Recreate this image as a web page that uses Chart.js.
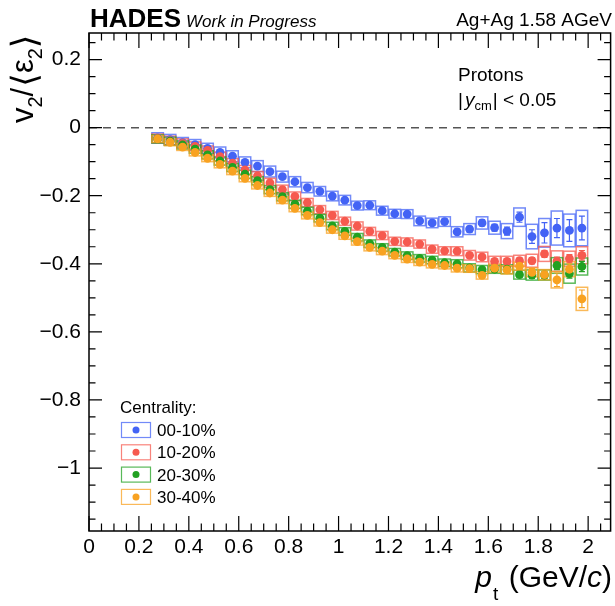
<!DOCTYPE html>
<html>
<head>
<meta charset="utf-8">
<script src="https://cdn.jsdelivr.net/npm/chart.js@4/dist/chart.umd.min.js"></script>
<style>
  body { margin: 0; background: #fff; }
</style>
</head>
<body>
<canvas id="chart" width="615" height="606"></canvas>
<script>
// Data ==========================
const ptBins = [0.275, 0.325, 0.375, 0.425, 0.475, 0.525, 0.575, 0.625, 0.675, 0.725,
                0.775, 0.825, 0.875, 0.925, 0.975, 1.025, 1.075, 1.125, 1.175, 1.225,
                1.275, 1.325, 1.375, 1.425, 1.475, 1.525, 1.575, 1.625, 1.675, 1.725,
                1.775, 1.825, 1.875, 1.925, 1.975];

const centLabels = ["00-10%", "10-20%", "20-30%", "30-40%"];
const centColors = ["#4363f5", "#f65a4f", "#21a121", "#f8a221"];

const v2Cent0010 = [-0.030, -0.035, -0.044, -0.050, -0.061, -0.073, -0.084, -0.102, -0.113, -0.129,
                    -0.144, -0.159, -0.176, -0.187, -0.201, -0.213, -0.229, -0.228, -0.244, -0.253,
                    -0.254, -0.274, -0.280, -0.276, -0.306, -0.298, -0.280, -0.294, -0.304, -0.263,
                    -0.320, -0.309, -0.295, -0.302, -0.295];
const v2Cent1020 = [-0.032, -0.038, -0.046, -0.055, -0.067, -0.085, -0.104, -0.124, -0.142, -0.162,
                    -0.182, -0.202, -0.220, -0.241, -0.258, -0.275, -0.289, -0.305, -0.317, -0.334,
                    -0.336, -0.342, -0.357, -0.362, -0.363, -0.375, -0.380, -0.393, -0.393, -0.391,
                    -0.391, -0.371, -0.392, -0.385, -0.375];
const v2Cent2030 = [-0.033, -0.040, -0.051, -0.063, -0.080, -0.098, -0.117, -0.137, -0.156, -0.182,
                    -0.203, -0.225, -0.245, -0.266, -0.289, -0.305, -0.322, -0.341, -0.352, -0.366,
                    -0.376, -0.384, -0.389, -0.397, -0.400, -0.412, -0.417, -0.416, -0.416, -0.432,
                    -0.433, -0.433, -0.405, -0.429, -0.408];
const v2Cent3040 = [-0.033, -0.043, -0.057, -0.073, -0.090, -0.108, -0.128, -0.149, -0.170, -0.192,
                    -0.213, -0.237, -0.258, -0.279, -0.300, -0.318, -0.335, -0.352, -0.363, -0.375,
                    -0.386, -0.395, -0.402, -0.405, -0.413, -0.414, -0.434, -0.413, -0.418, -0.407,
                    -0.425, -0.432, -0.447, -0.416, -0.503];

// statistical errors (half length)
const stat0010 = [0.003, 0.003, 0.003, 0.003, 0.003, 0.003, 0.003, 0.003, 0.004, 0.004,
                  0.004, 0.004, 0.004, 0.004, 0.004, 0.005, 0.005, 0.005, 0.005, 0.006,
                  0.006, 0.006, 0.007, 0.007, 0.008, 0.008, 0.009, 0.010, 0.012, 0.015,
                  0.020, 0.030, 0.028, 0.032, 0.035];
const stat1020 = [0.002, 0.002, 0.002, 0.002, 0.002, 0.002, 0.002, 0.003, 0.003, 0.003,
                  0.003, 0.003, 0.003, 0.003, 0.003, 0.003, 0.004, 0.004, 0.004, 0.004,
                  0.004, 0.005, 0.005, 0.005, 0.006, 0.006, 0.006, 0.007, 0.007, 0.008,
                  0.009, 0.010, 0.012, 0.012, 0.014];
const stat2030 = [0.002, 0.002, 0.002, 0.002, 0.002, 0.002, 0.002, 0.003, 0.003, 0.003,
                  0.003, 0.003, 0.003, 0.003, 0.003, 0.003, 0.004, 0.004, 0.004, 0.004,
                  0.004, 0.005, 0.005, 0.005, 0.006, 0.006, 0.006, 0.007, 0.007, 0.008,
                  0.009, 0.010, 0.012, 0.013, 0.015];
const stat3040 = [0.002, 0.002, 0.002, 0.002, 0.002, 0.002, 0.002, 0.003, 0.003, 0.003,
                  0.003, 0.003, 0.003, 0.003, 0.003, 0.004, 0.004, 0.004, 0.004, 0.005,
                  0.005, 0.005, 0.006, 0.006, 0.006, 0.007, 0.007, 0.008, 0.009, 0.010,
                  0.011, 0.013, 0.020, 0.016, 0.026];

// systematic errors (half height of the boxes)
const sys0010 = [0.015, 0.015, 0.015, 0.015, 0.015, 0.016, 0.016, 0.016, 0.016, 0.016,
                 0.016, 0.015, 0.015, 0.014, 0.014, 0.014, 0.013, 0.013, 0.013, 0.013,
                 0.013, 0.014, 0.014, 0.014, 0.015, 0.016, 0.018, 0.019, 0.022, 0.027,
                 0.036, 0.042, 0.050, 0.048, 0.052];
const sys1020 = [0.013, 0.013, 0.013, 0.013, 0.013, 0.013, 0.013, 0.013, 0.013, 0.013,
                 0.013, 0.013, 0.012, 0.012, 0.012, 0.012, 0.012, 0.012, 0.012, 0.012,
                 0.012, 0.012, 0.012, 0.012, 0.013, 0.014, 0.014, 0.015, 0.015, 0.016,
                 0.019, 0.022, 0.030, 0.022, 0.025];
const sys2030 = [0.012, 0.012, 0.012, 0.012, 0.012, 0.012, 0.012, 0.012, 0.012, 0.012,
                 0.012, 0.012, 0.011, 0.011, 0.011, 0.011, 0.011, 0.011, 0.011, 0.011,
                 0.011, 0.011, 0.011, 0.011, 0.012, 0.012, 0.012, 0.012, 0.013, 0.013,
                 0.015, 0.015, 0.023, 0.028, 0.025];
const sys3040 = [0.010, 0.010, 0.010, 0.010, 0.010, 0.010, 0.010, 0.010, 0.010, 0.010,
                 0.010, 0.010, 0.010, 0.010, 0.010, 0.010, 0.010, 0.010, 0.010, 0.010,
                 0.010, 0.010, 0.010, 0.010, 0.011, 0.011, 0.011, 0.012, 0.012, 0.012,
                 0.013, 0.015, 0.024, 0.022, 0.034];

const v2Sets = [v2Cent0010, v2Cent1020, v2Cent2030, v2Cent3040];
const statSets = [stat0010, stat1020, stat2030, stat3040];
const sysSets = [sys0010, sys1020, sys2030, sys3040];

const boxHalfWidth = 0.023;
const FONT = '"Liberation Sans", Arial, Helvetica, sans-serif';

// Helpers ==========================
function alpha(hex, a) {
    const n = parseInt(hex.slice(1), 16);
    return `rgba(${n >> 16}, ${(n >> 8) & 255}, ${n & 255}, ${a})`;
}

function fmtTick(v) {
    let r = Math.round(v * 10) / 10;
    if (r === 0) return "0";
    return String(r).replace("-", "\u2212");
}

// draws a row of text pieces with their own font and baseline shift
function drawRuns(ctx, x, y, parts) {
    for (const p of parts) {
        ctx.font = p.font;
        ctx.fillText(p.t, x, y + (p.dy || 0));
        x += ctx.measureText(p.t).width + (p.gap || 0);
    }
    return x;
}

function runsWidth(ctx, parts) {
    let w = 0;
    for (const p of parts) {
        ctx.font = p.font;
        w += ctx.measureText(p.t).width + (p.gap || 0);
    }
    return w;
}

// ROOT-like frame, ticks, error boxes and labels ==========================
const rootStyle = {
    id: "rootStyle",
    beforeDatasetsDraw(chart) {
        const { ctx, chartArea: a, scales: { x, y } } = chart;
        ctx.save();

        // dashed line at zero
        ctx.strokeStyle = "#555";
        ctx.lineWidth = 1.5;
        ctx.setLineDash([8, 6]);
        ctx.beginPath();
        ctx.moveTo(a.left, y.getPixelForValue(0));
        ctx.lineTo(a.right, y.getPixelForValue(0));
        ctx.stroke();
        ctx.setLineDash([]);

        // systematic boxes
        ctx.lineWidth = 1.5;
        v2Sets.forEach((vals, s) => {
            ctx.strokeStyle = alpha(centColors[s], 0.75);
            vals.forEach((v, i) => {
                const x0 = x.getPixelForValue(ptBins[i] - boxHalfWidth);
                const x1 = x.getPixelForValue(ptBins[i] + boxHalfWidth);
                const y0 = y.getPixelForValue(v + sysSets[s][i]);
                const y1 = y.getPixelForValue(v - sysSets[s][i]);
                ctx.strokeRect(x0, y0, x1 - x0, y1 - y0);
            });
        });

        // statistical error bars
        ctx.lineWidth = 1.2;
        v2Sets.forEach((vals, s) => {
            ctx.strokeStyle = centColors[s];
            vals.forEach((v, i) => {
                const px = x.getPixelForValue(ptBins[i]);
                const y0 = y.getPixelForValue(v + statSets[s][i]);
                const y1 = y.getPixelForValue(v - statSets[s][i]);
                ctx.beginPath();
                ctx.moveTo(px, y0); ctx.lineTo(px, y1);
                ctx.moveTo(px - 3, y0); ctx.lineTo(px + 3, y0);
                ctx.moveTo(px - 3, y1); ctx.lineTo(px + 3, y1);
                ctx.stroke();
            });
        });
        ctx.restore();
    },
    afterDraw(chart) {
        const { ctx, chartArea: a, scales: { x, y } } = chart;
        ctx.save();

        // frame
        ctx.strokeStyle = "#000";
        ctx.lineWidth = 1.5;
        ctx.strokeRect(a.left, a.top, a.right - a.left, a.bottom - a.top);

        // inward ticks on all four sides
        ctx.lineWidth = 1.2;
        ctx.beginPath();
        for (let k = Math.ceil(x.min / 0.05 - 1e-6); k * 0.05 <= x.max + 1e-6; k++) {
            const px = x.getPixelForValue(k * 0.05);
            const len = k % 4 === 0 ? 15 : 7.5;
            ctx.moveTo(px, a.bottom); ctx.lineTo(px, a.bottom - len);
            ctx.moveTo(px, a.top); ctx.lineTo(px, a.top + len);
        }
        for (let k = Math.ceil(y.min / 0.05 - 1e-6); k * 0.05 <= y.max + 1e-6; k++) {
            const py = y.getPixelForValue(k * 0.05);
            const len = k % 4 === 0 ? 13 : 6.5;
            ctx.moveTo(a.left, py); ctx.lineTo(a.left + len, py);
            ctx.moveTo(a.right, py); ctx.lineTo(a.right - len, py);
        }
        ctx.stroke();

        ctx.fillStyle = "#000";
        ctx.textBaseline = "alphabetic";

        // header
        ctx.textAlign = "left";
        drawRuns(ctx, 90, 27, [
            { t: "HADES", font: `bold 26px ${FONT}`, gap: 5 },
            { t: "Work in Progress", font: `italic 17px ${FONT}` }
        ]);
        ctx.textAlign = "right";
        ctx.font = `19px ${FONT}`;
        ctx.fillText("Ag+Ag 1.58 AGeV", 612, 26);
        ctx.textAlign = "left";

        // particle and rapidity window
        ctx.font = `19px ${FONT}`;
        ctx.fillText("Protons", 458, 81);
        drawRuns(ctx, 458, 106, [
            { t: "|", font: `19px ${FONT}`, gap: 2 },
            { t: "y", font: `italic 19px ${FONT}` },
            { t: "cm", font: `13px ${FONT}`, dy: 4, gap: 1 },
            { t: "|", font: `19px ${FONT}` },
            { t: " < 0.05", font: `19px ${FONT}` }
        ]);

        // x axis title, right end at the frame edge
        const xTitle = [
            { t: "p", font: `italic 30px ${FONT}`, gap: 1 },
            { t: "t", font: `19px ${FONT}`, dy: 13, gap: 2 },
            { t: " (GeV/", font: `30px ${FONT}` },
            { t: "c", font: `italic 30px ${FONT}` },
            { t: ")", font: `30px ${FONT}` }
        ];
        drawRuns(ctx, 612 - runsWidth(ctx, xTitle), 587, xTitle);

        // y axis title, rotated
        ctx.save();
        ctx.translate(33, 123);
        ctx.rotate(-Math.PI / 2);
        drawRuns(ctx, 0, 0, [
            { t: "v", font: `31px ${FONT}` },
            { t: "2", font: `20px ${FONT}`, dy: 9 },
            { t: "/", font: `31px ${FONT}`, gap: 1 },
            { t: "\u27E8", font: `35px "DejaVu Sans"`, dy: 3 },
            { t: "\u03B5", font: `31px ${FONT}` },
            { t: "2", font: `20px ${FONT}`, dy: 9 },
            { t: "\u27E9", font: `35px "DejaVu Sans"`, dy: 3 }
        ]);
        ctx.restore();

        // legend
        ctx.font = `17px ${FONT}`;
        ctx.fillText("Centrality:", 120, 413);
        centLabels.forEach((lab, s) => {
            const cy = 430 + s * 22.3;
            ctx.strokeStyle = alpha(centColors[s], 0.75);
            ctx.lineWidth = 1.2;
            ctx.strokeRect(121.5, cy - 7.5, 29, 15);
            ctx.fillStyle = centColors[s];
            ctx.beginPath();
            ctx.arc(136, cy, 3.5, 0, Math.PI * 2);
            ctx.fill();
            ctx.fillStyle = "#000";
            ctx.fillText(lab, 157, cy + 6);
        });
        ctx.restore();
    }
};

// Chart ==========================
const chart = new Chart(document.getElementById("chart").getContext("2d"), {
    type: "scatter",
    data: {
        datasets: v2Sets.map((vals, s) => ({
            label: centLabels[s],
            data: vals.map((v, i) => ({ x: ptBins[i], y: v })),
            backgroundColor: centColors[s],
            borderWidth: 0,
            pointRadius: 4.4,
            order: 4 - s
        }))
    },
    options: {
        responsive: false,
        animation: false,
        devicePixelRatio: 1,
        layout: { padding: { left: 0, right: 2, top: 33, bottom: 35 } },
        plugins: {
            legend: { display: false },
            tooltip: { enabled: false }
        },
        scales: {
            x: {
                type: "linear",
                min: 0,
                max: 2.09,
                afterFit: s => { s.height = 40; },
                grid: { display: false },
                border: { display: false },
                ticks: {
                    stepSize: 0.2,
                    includeBounds: false,
                    autoSkip: false,
                    maxRotation: 0,
                    padding: -4,
                    color: "#000",
                    font: { family: FONT, size: 21 },
                    callback: fmtTick
                }
            },
            y: {
                type: "linear",
                min: -1.185,
                max: 0.278,
                afterFit: s => { s.width = 89; },
                grid: { display: false },
                border: { display: false },
                ticks: {
                    stepSize: 0.2,
                    includeBounds: false,
                    autoSkip: false,
                    padding: 0,
                    color: "#000",
                    font: { family: FONT, size: 21 },
                    callback: fmtTick
                }
            }
        }
    },
    plugins: [rootStyle]
});
</script>
</body>
</html>
